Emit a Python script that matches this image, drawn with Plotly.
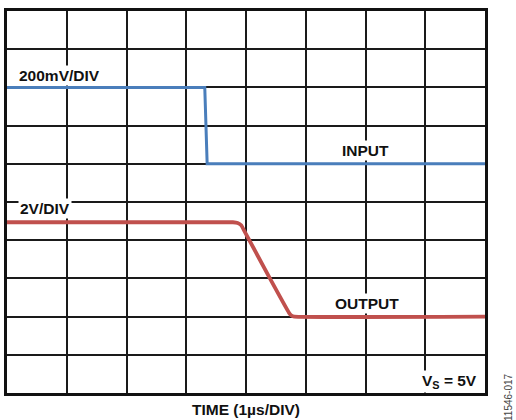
import plotly.graph_objects as go

# Scope trace data (x in time divisions, y in vertical divisions)
input_t = [0, 3.31, 3.35, 8]
input_v = [8.0, 8.0, 6.0, 6.0]
output_t = [0, 3.78, 3.86, 3.92, 3.98, 4.40, 4.72, 4.76, 4.81, 8]
output_v = [4.47, 4.47, 4.45, 4.39, 4.22, 3.0, 2.1, 2.03, 2.0, 2.0]

x_divs = 8
y_divs = 10

W, H = 516, 420
L, R, T, B = 7, 31, 11, 27

def px_x(p):
    return (p - L) / (W - L - R)

def px_y(p):
    return (H - B - p) / (H - B - T)

font_b = dict(family="Liberation Sans, Arial, sans-serif", size=15.5, color="#111111", weight="bold")

fig = go.Figure()
fig.add_trace(go.Scatter(x=input_t, y=input_v, mode="lines",
                         line=dict(color="#4a7ebb", width=3), hoverinfo="skip"))
fig.add_trace(go.Scatter(x=output_t, y=output_v, mode="lines",
                         line=dict(color="#c0504d", width=3.8, shape="spline", smoothing=0.3),
                         hoverinfo="skip"))

ann = [
    dict(x=0.17, y=8.32, text="200mV/DIV", xanchor="left", yanchor="middle"),
    dict(x=0.19, y=4.835, text="2V/DIV", xanchor="left", yanchor="middle"),
    dict(x=6.0, y=6.35, text="INPUT", xanchor="center", yanchor="middle"),
    dict(x=6.03, y=2.35, text="OUTPUT", xanchor="center", yanchor="middle"),
    dict(x=7.9, y=0.30, text="V<sub>S</sub> = 5V", xanchor="right", yanchor="middle"),
]
annotations = []
for a in ann:
    a.update(xref="x", yref="y", showarrow=False, font=font_b, bgcolor="white", borderpad=1)
    annotations.append(a)

annotations.append(dict(x=px_x(246), y=px_y(410), xref="paper", yref="paper",
                        text="TIME (1µs/DIV)", showarrow=False, xanchor="center",
                        yanchor="middle", font=font_b))
annotations.append(dict(x=px_x(509), y=px_y(397), xref="paper", yref="paper",
                        text="11546-017", showarrow=False, textangle=-90,
                        xanchor="center", yanchor="middle",
                        font=dict(family="Liberation Sans, Arial, sans-serif", size=10, color="#444444")))

axis_common = dict(showticklabels=False, ticks="", zeroline=False, showgrid=True,
                   gridcolor="#1a1a1a", gridwidth=1.5, dtick=1, tick0=0,
                   showline=True, linecolor="#111111", linewidth=2.5, mirror=True,
                   fixedrange=True)

fig.update_layout(
    width=W, height=H, autosize=False,
    margin=dict(l=L, r=R, t=T, b=B, pad=0),
    paper_bgcolor="white", plot_bgcolor="white",
    showlegend=False,
    xaxis=dict(range=[0, x_divs], **axis_common),
    yaxis=dict(range=[0, y_divs], **axis_common),
    annotations=annotations,
)

fig.write_html("out.html")
